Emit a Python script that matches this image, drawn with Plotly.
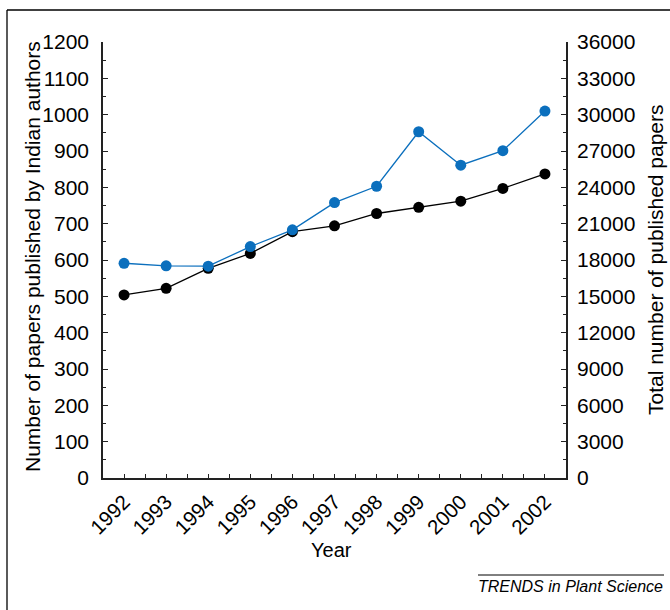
import plotly.graph_objects as go

years = [1992, 1993, 1994, 1995, 1996, 1997, 1998, 1999, 2000, 2001, 2002]
indian_papers = [504, 522, 577, 618, 678, 694, 728, 745, 762, 797, 837]
total_papers = [17730, 17520, 17490, 19110, 20490, 22740, 24090, 28590, 25830, 27030, 30300]

left_ticks = list(range(0, 1201, 100))
right_ticks = list(range(0, 36001, 3000))
right_ticktext = [str(v) for v in right_ticks]

FONT = "Arial, Liberation Sans, sans-serif"
BLUE = "#0b6fbd"
AX = "#222222"

fig = go.Figure()
fig.add_trace(go.Scatter(
    x=years, y=total_papers, yaxis="y2", mode="lines+markers",
    line=dict(color=BLUE, width=1.3),
    marker=dict(color=BLUE, size=11), showlegend=False))
fig.add_trace(go.Scatter(
    x=years, y=indian_papers, mode="lines+markers",
    line=dict(color="black", width=1.3),
    marker=dict(color="black", size=11), showlegend=False))

W, H = 670, 610
L, R, T, B = 103, 104, 42, 132
pw, ph = W - L - R, H - T - B

def px(x):
    return (x - L) / pw

def py(y):
    return (H - B - y) / ph

fig.update_layout(
    width=W, height=H,
    margin=dict(l=L, r=R, t=T, b=B, pad=0),
    paper_bgcolor="white", plot_bgcolor="white",
    font=dict(family=FONT, size=20, color="black"),
    xaxis=dict(
        range=[1991.5, 2002.5], tickvals=years, ticktext=[str(y) for y in years],
        tickangle=-45, ticks="inside", ticklen=4, tickwidth=1.3, tickcolor=AX,
        minor=dict(dtick=0.5, tick0=1991.5, ticks="inside", ticklen=4, tickwidth=1.3, tickcolor=AX),
        showline=True, linecolor=AX, linewidth=1.6, showgrid=False, zeroline=False,
        tickfont=dict(size=20.5), ticklabelstandoff=2,
    ),
    yaxis=dict(
        range=[0, 1200], tickvals=left_ticks, ticks="inside", ticklen=5, tickwidth=1.3,
        tickcolor=AX,
        minor=dict(dtick=50, ticks="inside", ticklen=3, tickwidth=1.3, tickcolor=AX),
        showline=True, linecolor=AX, linewidth=1.6, showgrid=False, zeroline=False,
        tickfont=dict(size=21), ticklabelstandoff=8,
    ),
    yaxis2=dict(
        range=[0, 36000], tickvals=right_ticks, ticktext=right_ticktext,
        overlaying="y", side="right",
        ticks="inside", ticklen=5, tickwidth=1.3, tickcolor=AX,
        minor=dict(dtick=1500, ticks="inside", ticklen=3, tickwidth=1.3, tickcolor=AX),
        showline=True, linecolor=AX, linewidth=1.6, showgrid=False, zeroline=False,
        tickfont=dict(size=21), ticklabelstandoff=5,
    ),
)

anns = [
    dict(text="Number of papers published by Indian authors", x=px(32), y=py(257),
         textangle=-90, font=dict(size=21)),
    dict(text="Total number of published papers", x=px(655), y=py(260),
         textangle=-90, font=dict(size=21)),
    dict(text="Year", x=px(331), y=py(550), font=dict(size=20)),
    dict(text="<i>TRENDS in Plant Science</i>", x=px(570), y=py(586), font=dict(size=16)),
]
for a in anns:
    fig.add_annotation(xref="paper", yref="paper", showarrow=False,
                       xanchor="center", yanchor="middle", **a)

fig.add_shape(type="line", xref="paper", yref="paper",
              x0=px(7), x1=px(680), y0=py(10), y1=py(10), line=dict(color="black", width=1.3))
fig.add_shape(type="line", xref="paper", yref="paper",
              x0=px(7), x1=px(7), y0=py(10), y1=py(620), line=dict(color="black", width=1.3))
fig.add_shape(type="line", xref="paper", yref="paper",
              x0=px(478), x1=px(664), y0=py(575), y1=py(575), line=dict(color="black", width=1))

fig.write_html("out.html")
